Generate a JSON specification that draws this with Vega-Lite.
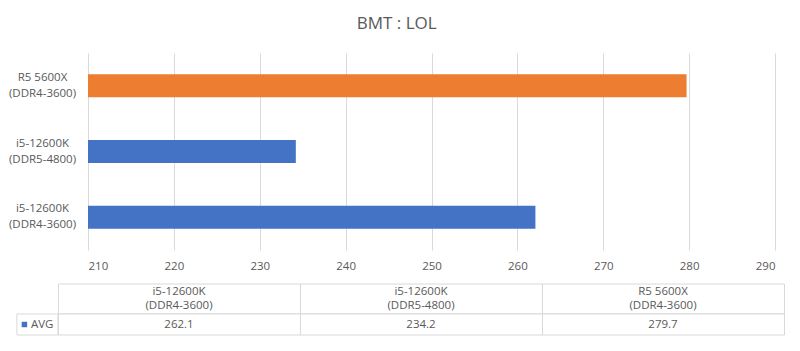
{
  "$schema": "https://vega.github.io/schema/vega-lite/v6.json",
  "padding": {"left": 8, "top": 15, "right": 10, "bottom": 10},
  "background": "white",
  "title": {"text": "BMT : LOL", "fontSize": 17, "fontWeight": "normal", "color": "#595959", "font": "Open Sans", "anchor": "middle", "offset": 20},
  "config": {"font": "Open Sans", "view": {"stroke": null}},
  "bounds": "flush",
  "spacing": 34,
  "data": {"values": [
    {"cpu": "i5-12600K\n(DDR4-3600)", "order": 0, "avg": 262.1, "shown": "262.1"},
    {"cpu": "i5-12600K\n(DDR5-4800)", "order": 1, "avg": 234.2, "shown": "234.2"},
    {"cpu": "R5 5600X\n(DDR4-3600)", "order": 2, "avg": 279.7, "shown": "279.7"}
  ]},
  "vconcat": [
    {
      "width": 687,
      "height": 197,
      "mark": {"type": "bar"},
      "encoding": {
        "y": {
          "field": "cpu", "type": "nominal",
          "sort": ["R5 5600X\n(DDR4-3600)", "i5-12600K\n(DDR5-4800)", "i5-12600K\n(DDR4-3600)"],
          "scale": {"paddingInner": 0.65, "paddingOuter": 0.325},
          "axis": {"title": null, "ticks": false, "domain": false, "labelAlign": "center", "labelPadding": 46,
                   "labelExpr": "split(datum.label, '\\n')", "labelLineHeight": 16, "labelFontSize": 11.5,
                   "labelColor": "#595959", "labelBaseline": "middle", "labelOffset": -8, "grid": false}
        },
        "x": {
          "field": "avg", "type": "quantitative",
          "scale": {"domain": [210, 290], "zero": false, "nice": false},
          "axis": {"title": null, "values": [210, 220, 230, 240, 250, 260, 270, 280, 290], "grid": true,
                   "gridColor": "#d9d9d9", "domain": false, "ticks": false, "labelPadding": 10,
                   "labelFontSize": 11.5, "labelColor": "#595959"}
        },
        "x2": {"datum": 210},
        "color": {
          "field": "cpu", "type": "nominal",
          "scale": {"domain": ["R5 5600X\n(DDR4-3600)", "i5-12600K\n(DDR5-4800)", "i5-12600K\n(DDR4-3600)"],
                    "range": ["#ED7D31", "#4472C4", "#4472C4"]},
          "legend": null
        }
      }
    },
    {
      "width": 696,
      "height": 51,
      "layer": [
        {
          "mark": {"type": "rect", "fill": "white", "stroke": "#d9d9d9", "strokeWidth": 1},
          "encoding": {
            "x": {"field": "order", "type": "quantitative", "bin": {"step": 1, "extent": [0, 3]},
                  "scale": {"domain": [0.1241, 3], "zero": false, "nice": false}, "axis": null},
            "y": {"datum": 0, "type": "quantitative", "scale": {"domain": [0, 1.7], "reverse": true, "zero": false, "nice": false}, "axis": null},
            "y2": {"datum": 1}
          }
        },
        {
          "mark": {"type": "rect", "fill": "white", "stroke": "#d9d9d9", "strokeWidth": 1},
          "encoding": {
            "x": {"field": "order", "type": "quantitative", "bin": {"step": 1, "extent": [0, 3]}},
            "y": {"datum": 1, "type": "quantitative"},
            "y2": {"datum": 1.7}
          }
        },
        {
          "mark": {"type": "text", "lineBreak": "\n", "lineHeight": 14, "fontSize": 11.5, "color": "#595959", "baseline": "middle", "align": "center"},
          "encoding": {
            "x": {"field": "order", "type": "quantitative", "bin": {"step": 1, "extent": [0, 3]}},
            "y": {"datum": 0.28, "type": "quantitative"},
            "text": {"field": "cpu"}
          }
        },
        {
          "mark": {"type": "text", "fontSize": 11.5, "color": "#595959", "baseline": "middle", "align": "center"},
          "encoding": {
            "x": {"field": "order", "type": "quantitative", "bin": {"step": 1, "extent": [0, 3]}},
            "y": {"datum": 1.35, "type": "quantitative"},
            "text": {"field": "shown"}
          }
        },
        {
          "data": {"values": [{"series": "AVG"}]},
          "layer": [
            {
              "mark": {"type": "rect", "fill": "white", "stroke": "#d9d9d9", "strokeWidth": 1},
              "encoding": {
                "x": {"datum": -0.1696, "type": "quantitative"},
                "x2": {"datum": 0},
                "y": {"datum": 1, "type": "quantitative"},
                "y2": {"datum": 1.7}
              }
            },
            {
              "mark": {"type": "point", "shape": "square", "filled": true, "size": 30, "color": "#4472C4", "opacity": 1},
              "encoding": {
                "x": {"datum": -0.1386, "type": "quantitative"},
                "y": {"datum": 1.35, "type": "quantitative"}
              }
            },
            {
              "mark": {"type": "text", "fontSize": 11.5, "color": "#595959", "baseline": "middle", "align": "left"},
              "encoding": {
                "x": {"datum": -0.1117, "type": "quantitative"},
                "y": {"datum": 1.35, "type": "quantitative"},
                "text": {"field": "series"}
              }
            }
          ]
        }
      ]
    }
  ]
}
